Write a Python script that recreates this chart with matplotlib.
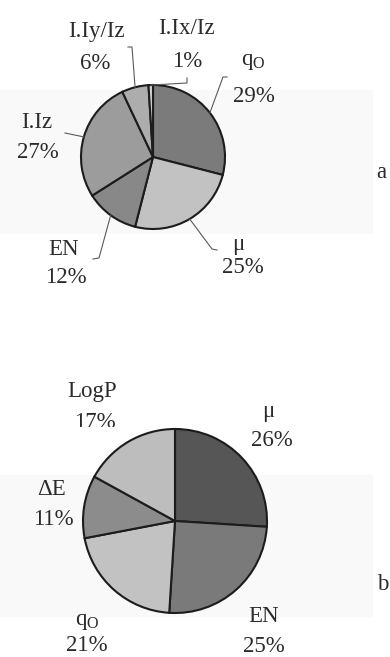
import numpy as np
import matplotlib
matplotlib.use("Agg")
import matplotlib.pyplot as plt
from matplotlib.patches import Rectangle
from matplotlib.transforms import Bbox, TransformedBbox

plt.rcParams["font.family"] = ["Liberation Serif", "DejaVu Serif"]
plt.rcParams["mathtext.fontset"] = "custom"
plt.rcParams["mathtext.rm"] = "Liberation Serif"

# ---- data -------------------------------------------------------------
labels_a = ["q$_{\\mathrm{O}}$", "\u03bc", "EN", "I.Iz", "I.Iy/Iz", "I.Ix/Iz"]
values_a = [29, 25, 12, 27, 6, 1]
colors_a = ["#7b7b7b", "#c2c2c2", "#888888", "#9c9c9c", "#adadad", "#d2d2d2"]

labels_b = ["\u03bc", "EN", "q$_{\\mathrm{O}}$", "\u0394E", "LogP"]
values_b = [26, 25, 21, 11, 17]
colors_b = ["#565656", "#7a7a7a", "#c2c2c2", "#8c8c8c", "#bdbdbd"]

W, H = 390, 657
fig = plt.figure(figsize=(W / 100, H / 100), dpi=100)
ax = fig.add_axes([0, 0, 1, 1])


def Y(y):
    """Pixel row (from top) to axis coordinate."""
    return H - y


# faint scan bands behind the pies
ax.add_patch(Rectangle((0, Y(234)), 373, 144, facecolor="#f9f9f9",
                       edgecolor="none", zorder=0))
ax.add_patch(Rectangle((0, Y(617)), 373, 142, facecolor="#f9f9f9",
                       edgecolor="none", zorder=0))

wedge_kw = dict(edgecolor="#1c1c1c", linewidth=1.5)

ca, ra = (153, Y(157)), 72
ax.pie(values_a, colors=colors_a, startangle=90, counterclock=False,
       center=ca, radius=ra, wedgeprops=wedge_kw)

cb, rb = (175, Y(521)), 92
ax.pie(values_b, colors=colors_b, startangle=90, counterclock=False,
       center=cb, radius=rb, wedgeprops=wedge_kw)

ax.set_xlim(0, W)
ax.set_ylim(0, H)
ax.set_aspect("equal")
ax.axis("off")

# ---- leader lines for chart a -------------------------------------------
cum = np.cumsum([0] + values_a)
mid_deg = 90 - (cum[:-1] + np.array(values_a) / 2) / sum(values_a) * 360
bends_a = [
    [(223, 77), (227, 77)],          # qO
    [(212, 249), (217, 250)],        # mu
    [(99, 258), (93, 259)],          # EN
    [(65, 133)],                     # I.Iz
    [(132, 47), (128, 47)],          # I.Iy/Iz
    [(187, 83), (187, 78)],          # I.Ix/Iz
]
for ang, bend in zip(mid_deg, bends_a):
    t = np.deg2rad(ang)
    x0 = ca[0] + ra * np.cos(t)
    y0 = ca[1] + ra * np.sin(t)
    xs = [x0] + [p[0] for p in bend]
    ys = [y0] + [Y(p[1]) for p in bend]
    ax.plot(xs, ys, color="#5a5a5a", lw=0.8, zorder=1)

# ---- labels --------------------------------------------------------------
txt_kw = dict(fontsize=16.5, color="#2b2b2b", ha="center", va="baseline")

def clip_below(t, ycut):
    box = TransformedBbox(Bbox.from_extents(0, Y(ycut), W, H), ax.transData)
    t.set_clip_box(box)
    t.set_clip_on(True)

# name position, name baseline, percent position, percent baseline
pos_a = [
    (253, 65, 254, 102),
    (238, 250, 243, 273),
    (64, 255, 66, 283),
    (37, 128, 38, 158),
    (96, 37, 95, 69),
    (186, 34, 187, 67),
]
for lab, v, (xn, yn, xp, yp) in zip(labels_a, values_a, pos_a):
    ax.text(xn, Y(yn), lab, **txt_kw)
    t = ax.text(xp, Y(yp), f"{v}%", **txt_kw)
    clip_below(t, 283)

pos_b = [
    (268, 417, 272, 446),
    (264, 622, 264, 652),
    (87, 625, 87, 651),
    (52, 495, 53, 525),
    (92, 397, 95, 428),
]
for lab, v, (xn, yn, xp, yp) in zip(labels_b, values_b, pos_b):
    ax.text(xn, Y(yn), lab, **txt_kw)
    t = ax.text(xp, Y(yp), f"{v}%", **txt_kw)
    if lab == "LogP":
        clip_below(t, 427)

ax.text(381, Y(178), "a", **txt_kw)
ax.text(383, Y(590), "b", **txt_kw)

fig.savefig("out.png", dpi=100, facecolor="white")
